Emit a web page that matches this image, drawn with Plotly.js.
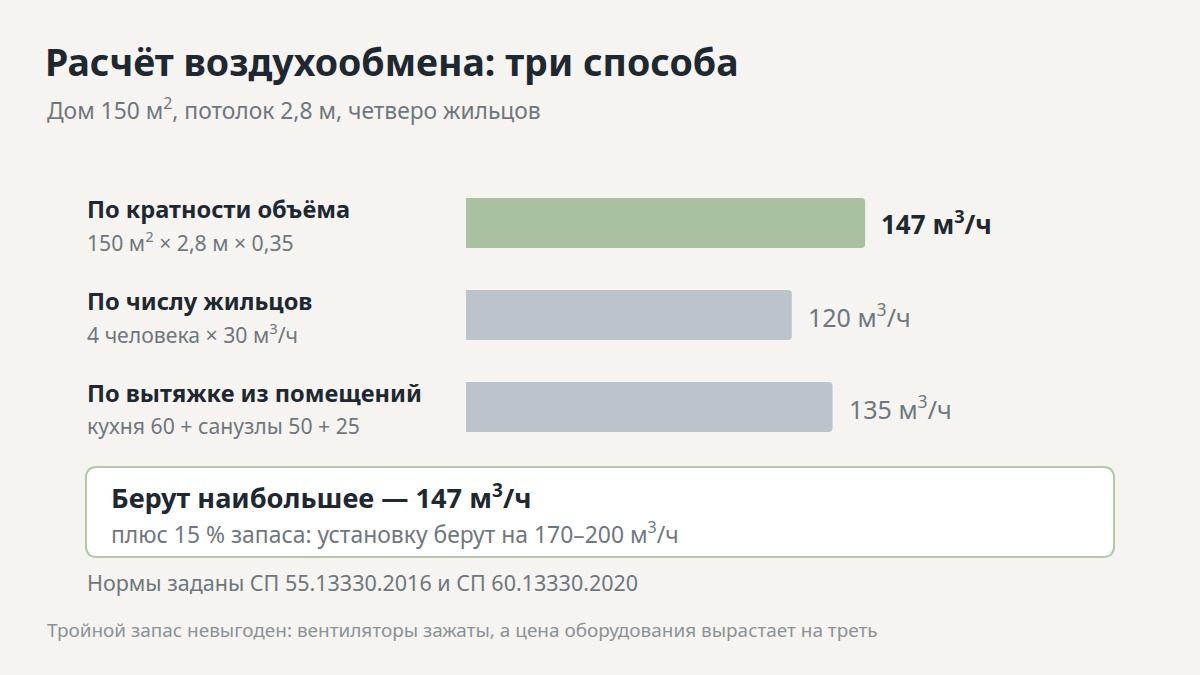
<!DOCTYPE html>
<html><head><meta charset="utf-8">
<script src="https://cdn.plot.ly/plotly-3.0.1.min.js"></script>
<style>html,body{margin:0;padding:0;background:#f5f4f0;}#chart{width:1200px;height:675px;}</style>
</head><body><div id="chart"></div>
<script>
const methods = ["По кратности объёма", "По числу жильцов", "По вытяжке из помещений"];
const formulas = ["150 м<sup>2</sup> × 2,8 м × 0,35", "4 человека × 30 м<sup>3</sup>/ч", "кухня 60 + санузлы 50 + 25"];
const values = [147, 120, 135];
const unit = " м<sup>3</sup>/ч";
const highlight = [true, false, false];

const FONT = "Noto Sans, Open Sans, sans-serif";
const W = 1200, H = 675;
const L = 466, R = 191, T = 177, B = 222;
const pw = W - L - R, ph = H - T - B;
const px = x => (x - L) / pw;
const py = y => (H - B - y) / ph;

const ann = [];
methods.forEach((m, i) => {
  ann.push({xref:'paper', yref:'y', x:0, y:m, xanchor:'left', yanchor:'middle', xshift:85-L, yshift:14,
    text:'<b>'+m+'</b>', showarrow:false, font:{family:FONT, size:23.6, color:'#1e2830'}});
  ann.push({xref:'paper', yref:'y', x:0, y:m, xanchor:'left', yanchor:'middle', xshift:85-L, yshift:-18,
    text:formulas[i], showarrow:false, font:{family:FONT, size:21.2, color:'#6f777e'}});
  ann.push({xref:'x', yref:'y', x:values[i], y:m, xanchor:'left', yanchor:'middle', xshift:14,
    text: highlight[i] ? '<b>'+values[i]+unit+'</b>' : values[i]+unit, showarrow:false,
    font:{family:FONT, size: highlight[i] ? 26 : 25, color: highlight[i] ? '#1e2830' : '#6f777e'}});
});
const best = Math.max(...values);
ann.push({xref:'paper', yref:'paper', x:px(109), y:py(496), xanchor:'left', yanchor:'middle',
  text:'<b>Берут наибольшее — '+best+unit+'</b>', showarrow:false, font:{family:FONT, size:27.2, color:'#1e2830'}});
ann.push({xref:'paper', yref:'paper', x:px(109), y:py(533), xanchor:'left', yanchor:'middle',
  text:'плюс 15 % запаса: установку берут на 170–200'+unit, showarrow:false, font:{family:FONT, size:22.9, color:'#6f777e'}});
ann.push({xref:'paper', yref:'paper', x:px(85), y:py(582), xanchor:'left', yanchor:'middle',
  text:'Нормы заданы СП 55.13330.2016 и СП 60.13330.2020', showarrow:false, font:{family:FONT, size:21.5, color:'#6f777e'}});
ann.push({xref:'paper', yref:'paper', x:px(45), y:py(630), xanchor:'left', yanchor:'middle',
  text:'Тройной запас невыгоден: вентиляторы зажаты, а цена оборудования вырастает на треть', showarrow:false, font:{family:FONT, size:18.95, color:'#8b9298'}});
ann.push({xref:'paper', yref:'paper', x:px(45), y:py(109), xanchor:'left', yanchor:'middle',
  text:'Дом 150 м<sup>2</sup>, потолок 2,8 м, четверо жильцов', showarrow:false, font:{family:FONT, size:22.8, color:'#6f777e'}});

// rounded box
const x0=86, x1=1114, y0=467, y1=557, r=11;
const P = (x,y) => px(x)+','+py(y);
const path = 'M'+P(x0+r,y0)+' L'+P(x1-r,y0)+' Q'+P(x1,y0)+' '+P(x1,y0+r)+' L'+P(x1,y1-r)+' Q'+P(x1,y1)+' '+P(x1-r,y1)+
  ' L'+P(x0+r,y1)+' Q'+P(x0,y1)+' '+P(x0,y1-r)+' L'+P(x0,y0+r)+' Q'+P(x0,y0)+' '+P(x0+r,y0)+' Z';

const data = [{
  type:'bar', orientation:'h', y:methods, x:values,
  marker:{color: highlight.map(h => h ? '#a9c1a1' : '#bcc3ca'), cornerradius:4},
  width:0.545, hoverinfo:'skip', textposition:'none'
}];
const layout = {
  width:W, height:H, paper_bgcolor:'#f5f4f0', plot_bgcolor:'rgba(0,0,0,0)',
  margin:{l:L, r:R, t:T, b:B}, showlegend:false,
  title:{text:'<b>Расчёт воздухообмена: три способа</b>', xref:'container', yref:'container', x:45/W, y:1-63/H,
    xanchor:'left', yanchor:'middle', font:{family:FONT, size:37.5, color:'#1e2830'}},
  xaxis:{range:[0,200], visible:false, fixedrange:true},
  yaxis:{range:[2.5,-0.5], visible:false, fixedrange:true, type:'category'},
  annotations:ann,
  shapes:[{type:'path', xref:'paper', yref:'paper', path:path, fillcolor:'#ffffff', line:{color:'#b5c8aa', width:2}, layer:'below'}]
};
Plotly.newPlot('chart', data, layout, {displayModeBar:false, staticPlot:true});
</script></body></html>
